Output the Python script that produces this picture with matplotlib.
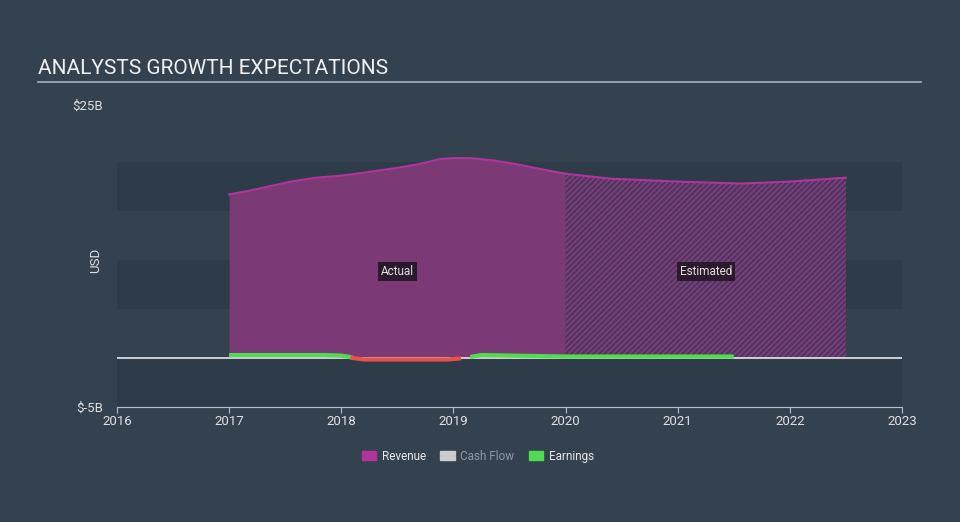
import matplotlib
matplotlib.use('Agg')
import matplotlib.pyplot as plt
from matplotlib.patches import Patch
import numpy as np

plt.rcParams['font.family'] = ['Roboto', 'DejaVu Sans']
plt.rcParams['hatch.linewidth'] = 1.0

# revenue (USD billions), actual then estimated
rev_x = [2017.0, 2017.15, 2017.35, 2017.55, 2017.77, 2018.0, 2018.25, 2018.5, 2018.7,
         2018.88, 2019.0, 2019.15, 2019.33, 2019.55, 2019.77, 2020.0]
rev_y = [16.7, 17.0, 17.5, 18.0, 18.4, 18.6, 19.0, 19.4, 19.8,
         20.3, 20.4, 20.4, 20.2, 19.8, 19.3, 18.8]
est_x = [2020.0, 2020.4, 2021.0, 2021.56, 2022.0, 2022.5]
est_y = [18.8, 18.3, 18.0, 17.8, 18.0, 18.4]

earn_x = [2017.0, 2017.84, 2018.0, 2018.1, 2018.2, 2018.95, 2019.05, 2019.15, 2019.25, 2020.0, 2021.5]
earn_y = [0.3, 0.3, 0.25, 0.05, -0.15, -0.15, -0.05, 0.1, 0.3, 0.15, 0.15]

years = [2016, 2017, 2018, 2019, 2020, 2021, 2022, 2023]

BG = '#344250'
BAND = '#2e3b49'
REV = '#b0359a'
FILL = '#7b3a76'

fig = plt.figure(figsize=(9.6, 5.22), dpi=100, facecolor=BG)
ax = fig.add_axes([117/960, 115/522, 785/960, 294/522])
ax.set_facecolor('none')
ax.set_xlim(2016, 2023)
ax.set_ylim(-5, 25)

# background bands
for lo in [-5, 5, 15]:
    ax.axhspan(lo, lo + 5, color=BAND, zorder=0, lw=0)

# revenue actual
ax.fill_between(rev_x, 0, rev_y, color=FILL, lw=0, zorder=2)
ax.plot(rev_x, rev_y, color=REV, lw=1.5, zorder=3)
# revenue estimated (hatched)
ax.fill_between(est_x, 0, est_y, facecolor='#4a3a5c', edgecolor='#92388a',
                hatch='//////', lw=0, zorder=2)
ax.plot(est_x, est_y, color=REV, lw=1.5, zorder=3)

# earnings, red where negative
ex = np.array(earn_x); ey = np.array(earn_y)
ax.plot(ex, np.where(ey >= 0, ey, np.nan), color='#4fdc4f', lw=3, zorder=4,
        solid_capstyle='butt')
neg_mask = ey <= 0.05
ax.plot(ex, np.where(neg_mask, np.minimum(ey, 0), np.nan), color='#e8504a', lw=3, zorder=4)

# zero line
ax.axhline(0, color='#e8e8e8', lw=1.2, zorder=3)

ax.text(2018.5, 8.8, 'Actual', color='#e0e0e0', fontsize=8.5, ha='center', va='center',
        zorder=5, bbox=dict(boxstyle='square,pad=0.25', fc='#2b1a2c', ec='none'))
ax.text(2021.25, 8.8, 'Estimated', color='#e0e0e0', fontsize=8.5, ha='center', va='center',
        zorder=5, bbox=dict(boxstyle='square,pad=0.25', fc='#2b1a2c', ec='none'))

for s in ['top', 'right', 'left']:
    ax.spines[s].set_visible(False)
ax.spines['bottom'].set_color('#b8c0c8')
ax.set_xticks(years)
ax.set_xticklabels([str(y) for y in years])
ax.tick_params(axis='x', colors='#b8c0c8', labelcolor='#e0e0e0', labelsize=9.5,
               length=4, pad=2)
ax.set_yticks([-5, 25])
ax.set_yticklabels([r'\$-5B', r'\$25B'])
ax.tick_params(axis='y', length=0, labelcolor='#e0e0e0', labelsize=9.5, pad=10)
ax.get_yticklabels()[1].set_va('bottom')
ax.set_ylabel('USD', color='#e0e0e0', fontsize=9.5)
ax.yaxis.set_label_coords(-15/785, 0.5)

# title and underline
fig.text(38/960, 1 - 68/522, 'ANALYSTS GROWTH EXPECTATIONS', color='#f0f0f0',
         fontsize=15, ha='left', va='center')
fig.add_artist(plt.Line2D([38/960, 921/960], [1 - 82/522, 1 - 82/522],
                          color='#aab2ba', lw=1.2, transform=fig.transFigure))

handles = [Patch(color=REV, label='Revenue'), Patch(color='#cccccc', label='Cash Flow'),
           Patch(color='#4fdc4f', label='Earnings')]
leg = fig.legend(handles=handles, loc='center', bbox_to_anchor=(478/960, 1 - 456/522),
                 ncol=3, frameon=False, fontsize=8.5, handlelength=1.2, handleheight=0.9,
                 columnspacing=1.2, handletextpad=0.5)
for t, c in zip(leg.get_texts(), ['#e8e8e8', '#8f99a3', '#e8e8e8']):
    t.set_color(c)

fig.savefig('out.png', dpi=100, facecolor=BG)
